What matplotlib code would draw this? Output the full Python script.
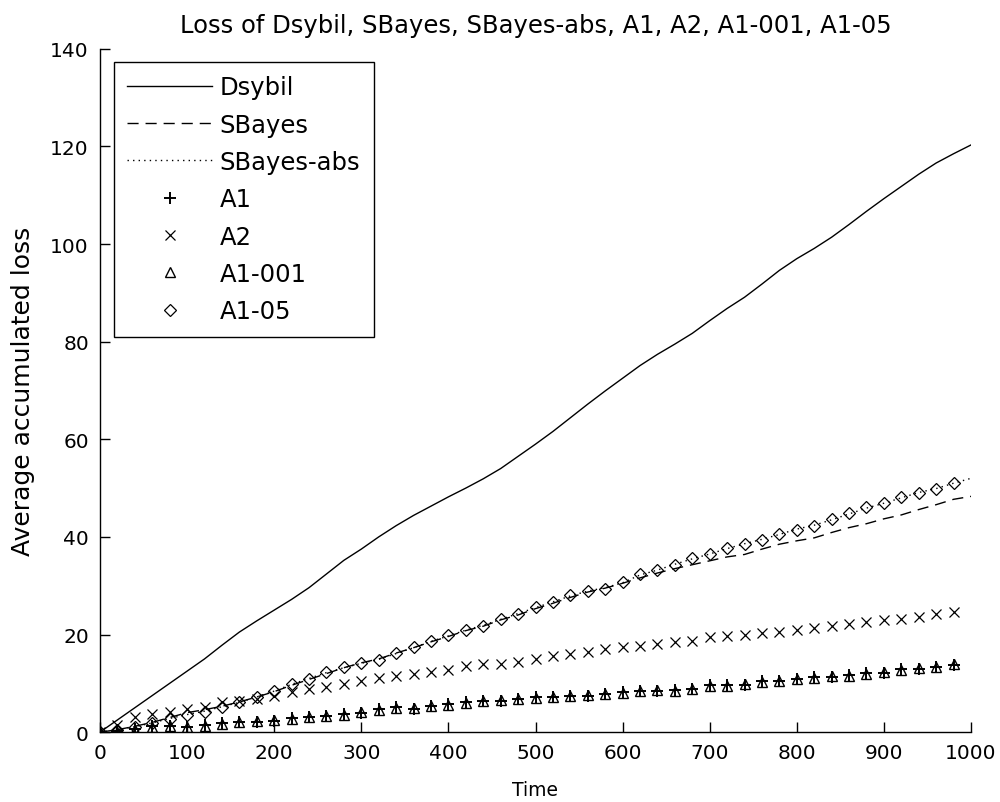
import numpy as np
import matplotlib
matplotlib.use("Agg")
import matplotlib.pyplot as plt

plt.rcParams['font.family'] = ['DejaVu Sans']

# time axis
t_line = np.arange(0, 1001, 20)
t_mark = np.arange(0, 1000, 20)

dsybil = [0, 2.5, 5.0, 7.5, 10.0, 12.5, 15.0, 17.8, 20.5, 22.8,
          25.0, 27.2, 29.6, 32.4, 35.2, 37.5, 40.0, 42.3, 44.4, 46.3,
          48.2, 50.0, 51.9, 54.0, 56.5, 59.0, 61.6, 64.4, 67.2, 69.9,
          72.5, 75.1, 77.4, 79.5, 81.7, 84.3, 86.8, 89.1, 91.8, 94.6,
          97.0, 99.1, 101.4, 104.0, 106.7, 109.3, 111.8, 114.3, 116.6, 118.5,
          120.3]
sbayes = [0, 0.5, 1.2, 2.0, 3.0, 4.0, 4.6, 5.3, 6.2, 7.2,
          8.3, 9.6, 10.8, 12.0, 13.2, 14.2, 15.0, 16.2, 17.3, 18.5,
          19.6, 20.8, 21.7, 23.0, 24.0, 25.3, 26.4, 27.6, 28.7, 29.5,
          30.5, 31.6, 32.6, 33.5, 34.3, 35.1, 35.9, 36.4, 37.5, 38.5,
          39.2, 39.8, 40.9, 41.9, 42.7, 43.7, 44.5, 45.6, 46.6, 47.7,
          48.3]
sbayes_abs = [0, 0.5, 1.1, 1.9, 2.8, 3.6, 4.3, 5.2, 6.1, 7.2,
              8.4, 9.8, 11.0, 12.2, 13.2, 14.1, 14.9, 16.1, 17.3, 18.6,
              19.7, 20.9, 21.9, 23.1, 24.3, 25.5, 26.7, 27.9, 28.9, 29.6,
              30.6, 32.2, 33.2, 34.4, 35.5, 36.5, 37.6, 38.6, 39.5, 40.5,
              41.6, 42.4, 43.5, 44.7, 45.9, 46.9, 48.0, 49.1, 49.9, 51.0,
              52.0]

a1 = [0, 0.2, 0.6, 1.3, 1.3, 1.0, 1.4, 1.8, 2.0, 2.1,
      2.3, 2.8, 3.0, 3.3, 3.7, 4.0, 4.7, 5.1, 4.8, 5.4,
      5.7, 6.1, 6.4, 6.4, 6.8, 7.1, 7.1, 7.5, 7.5, 7.8,
      8.2, 8.5, 8.5, 8.6, 8.8, 9.6, 9.6, 9.7, 10.5, 10.5,
      10.9, 11.3, 11.3, 11.7, 12.1, 12.2, 13.0, 13.0, 13.4, 13.8]
a2 = [0, 1.5, 3.0, 3.7, 4.2, 4.7, 5.1, 6.1, 6.4, 6.8,
      7.5, 8.3, 8.8, 9.2, 9.9, 10.5, 11.0, 11.6, 11.9, 12.3,
      12.8, 13.6, 14.0, 14.0, 14.3, 15.0, 15.7, 16.0, 16.4, 17.0,
      17.4, 17.7, 18.1, 18.4, 18.6, 19.4, 19.7, 19.9, 20.3, 20.6,
      20.9, 21.3, 21.8, 22.2, 22.6, 23.0, 23.1, 23.5, 24.2, 24.7]
a1_001 = [0, 0.1, 0.5, 1.1, 1.2, 1.1, 1.3, 1.7, 2.0, 2.2,
          2.4, 2.7, 3.1, 3.3, 3.6, 4.1, 4.5, 5.0, 4.9, 5.3,
          5.6, 6.0, 6.3, 6.5, 6.7, 7.0, 7.2, 7.4, 7.6, 7.8,
          8.1, 8.4, 8.6, 8.5, 8.9, 9.4, 9.5, 9.8, 10.3, 10.4,
          10.8, 11.1, 11.4, 11.6, 12.0, 12.3, 12.8, 13.1, 13.3, 13.9]
a1_05 = [0, 0.4, 1.0, 1.8, 2.7, 3.6, 4.2, 5.1, 6.2, 7.1,
         8.5, 9.9, 10.9, 12.3, 13.3, 14.2, 14.8, 16.2, 17.4, 18.7,
         19.8, 21.0, 21.8, 23.2, 24.2, 25.6, 26.6, 28.0, 29.0, 29.4,
         30.7, 32.4, 33.3, 34.3, 35.6, 36.4, 37.7, 38.5, 39.4, 40.6,
         41.5, 42.3, 43.6, 44.8, 46.1, 46.9, 48.2, 49.0, 49.8, 51.1]

fig = plt.figure(figsize=(10, 8.03), dpi=100)
ax = fig.add_axes([0.100, 0.087, 0.871, 0.851])

ax.plot(t_line, dsybil, color='k', lw=1, label='Dsybil')
ax.plot(t_line, sbayes, color='k', lw=1, dashes=(8, 5), label='SBayes')
ax.plot(t_line, sbayes_abs, color='k', lw=1, dashes=(1, 3), label='SBayes-abs')
ax.plot(t_mark, a1, ls='none', marker='+', ms=8, mew=1.4, color='k', label='A1')
ax.plot(t_mark, a2, ls='none', marker='x', ms=6.5, mew=0.9, color='k', label='A2')
ax.plot(t_mark, a1_001, ls='none', marker='^', ms=6.5, mew=1, mfc='none', color='k', label='A1-001')
ax.plot(t_mark, a1_05, ls='none', marker='D', ms=6.5, mew=0.9, mfc='none', color='k', label='A1-05')

ax.set_xlim(0, 1000)
ax.set_ylim(0, 140)
ax.set_xticks(np.arange(0, 1001, 100))
ax.set_yticks(np.arange(0, 141, 20))
ax.spines['top'].set_visible(False)
ax.spines['right'].set_visible(False)
ax.tick_params(direction='in', length=7, width=1, labelsize=14.5, pad=8)
for s in ['left', 'bottom']:
    ax.spines[s].set_linewidth(1)

ax.set_title("Loss of Dsybil, SBayes, SBayes-abs, A1, A2, A1-001, A1-05", fontsize=17.5, pad=12)
ax.set_xlabel("Time", fontsize=13.5, labelpad=13)
ax.set_ylabel("Average accumulated loss", fontsize=18, labelpad=11)

leg = ax.legend(loc='upper left', bbox_to_anchor=(0.016, 0.981), borderaxespad=0,
                fontsize=17.5, fancybox=False, edgecolor='k', framealpha=1,
                handlelength=3.5, labelspacing=0.55, handletextpad=0.3,
                borderpad=0.55)
leg.get_frame().set_linewidth(1)

plt.savefig('out.png', dpi=100)
